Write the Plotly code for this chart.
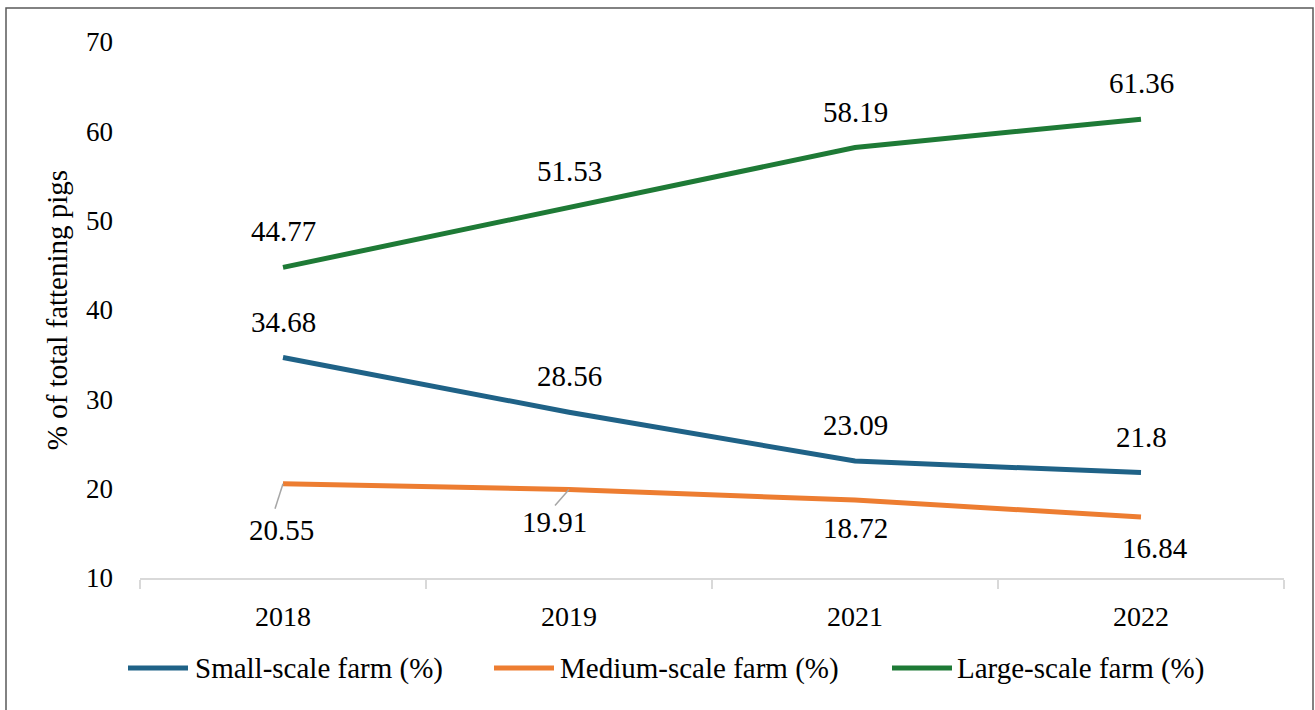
import plotly.graph_objects as go

# ---- data ----
years = ["2018", "2019", "2021", "2022"]
small_scale = [34.68, 28.56, 23.09, 21.8]
medium_scale = [20.55, 19.91, 18.72, 16.84]
large_scale = [44.77, 51.53, 58.19, 61.36]
series_names = ["Small-scale farm (%)", "Medium-scale farm (%)", "Large-scale farm (%)"]
y_ticks = [10, 20, 30, 40, 50, 60, 70]

# ---- styling ----
FONT = "Liberation Serif, Times New Roman, serif"
COLORS = ["#1F6287", "#ED7D31", "#1E7A36"]
YTICK_SIZE = 27
XTICK_SIZE = 28
LABEL_SIZE = 29
LEGEND_SIZE = 29

# plot area in pixels (window 1315 x 710)
W, H = 1315, 710
L, R, T, B = 140, 1284, 42, 578


def px_x(p):
    return (p - L) / (R - L)


def px_y(p):
    return (B - p) / (B - T)


fig = go.Figure()
all_series = [small_scale, medium_scale, large_scale]
for name, vals, col in zip(series_names, all_series, COLORS):
    fig.add_trace(go.Scatter(
        x=years, y=vals, name=name, mode="lines",
        line=dict(color=col, width=5),
        cliponaxis=False, showlegend=False,
    ))

label_font = dict(family=FONT, size=LABEL_SIZE, color="#000000")
annotations = []
shapes = []
# value labels above the small- and large-scale lines
# (category axis: annotations are placed by category index)
for vals in (small_scale, large_scale):
    for i, v in enumerate(vals):
        annotations.append(dict(
            xref="x", yref="y", x=i, y=v, text=f"{v:g}",
            showarrow=False, yshift=36, font=label_font,
        ))

# value labels below the medium-scale line, with short leader lines on the first two
medium_offsets = [(-2, 46), (-15, 33), (0, 28), (14, 31)]
medium_leaders = [(-8, -25), (-14, -16), None, None]
for i, (v, (dx, dy), lead) in enumerate(zip(medium_scale, medium_offsets, medium_leaders)):
    annotations.append(dict(
        xref="x", yref="y", x=i, y=v, text=f"{v:g}",
        showarrow=False, xshift=dx, yshift=-dy, font=label_font,
    ))
    if lead:
        shapes.append(dict(
            type="line", xref="x", yref="y",
            xsizemode="pixel", ysizemode="pixel", xanchor=i, yanchor=v,
            x0=0, y0=0, x1=lead[0], y1=lead[1],
            line=dict(color="#A6A6A6", width=1.5),
        ))

# legend drawn below the axis
legend_y = 668
legend_items = [(128, 188, 193), (494, 554, 558), (892, 952, 955)]
for (x0, x1, tx), name, col in zip(legend_items, series_names, COLORS):
    shapes.append(dict(
        type="line", xref="paper", yref="paper",
        x0=px_x(x0), x1=px_x(x1), y0=px_y(legend_y), y1=px_y(legend_y),
        line=dict(color=col, width=5),
    ))
    annotations.append(dict(
        xref="paper", yref="paper", x=px_x(tx), y=px_y(legend_y),
        xanchor="left", yanchor="middle", text=name, showarrow=False,
        font=dict(family=FONT, size=LEGEND_SIZE, color="#000000"),
    ))

# outer frame
shapes.append(dict(
    type="rect", xref="paper", yref="paper",
    x0=px_x(6), x1=px_x(1313), y0=px_y(714), y1=px_y(8),
    line=dict(color="#595959", width=1.5), fillcolor="rgba(0,0,0,0)",
))

fig.update_layout(
    width=W, height=H,
    margin=dict(l=L, r=W - R, t=T, b=H - B, pad=0),
    paper_bgcolor="white", plot_bgcolor="white",
    font=dict(family=FONT, size=LABEL_SIZE, color="#000000"),
    annotations=annotations, shapes=shapes,
    showlegend=False,
)
fig.update_xaxes(
    type="category", categoryorder="array", categoryarray=years,
    range=[-0.5, 3.5], showgrid=False, zeroline=False,
    showline=True, linecolor="#D9D9D9", linewidth=1.5,
    tickson="boundaries", ticks="outside", ticklen=9, tickcolor="#D9D9D9", tickwidth=1.5,
    ticklabelstandoff=13,
    tickfont=dict(family=FONT, size=XTICK_SIZE, color="#000000"),
)
fig.update_yaxes(
    range=[10, 70], tickvals=y_ticks, showgrid=False, zeroline=False,
    showline=False, ticks="", ticklabelstandoff=26,
    tickfont=dict(family=FONT, size=YTICK_SIZE, color="#000000"),
    title=dict(text="% of total fattening pigs", standoff=9,
               font=dict(family=FONT, size=LEGEND_SIZE, color="#000000")),
)

fig.write_html("out.html")
